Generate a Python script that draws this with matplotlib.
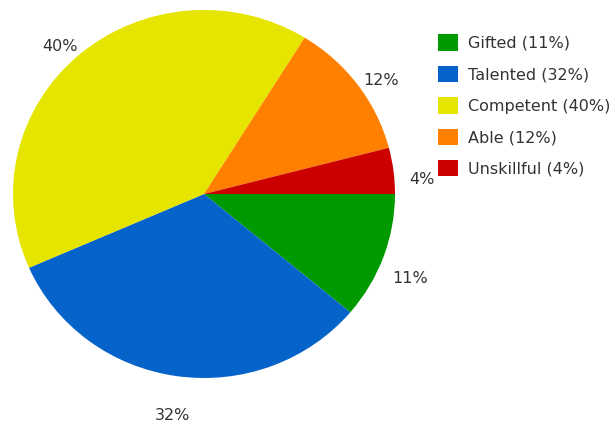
import matplotlib.pyplot as plt
from matplotlib.transforms import offset_copy

# Skill level breakdown
categories = ["Gifted", "Talented", "Competent", "Able", "Unskillful"]
shares = [11, 32, 40, 12, 4]
colors = ["#009a00", "#0563c9", "#e5e500", "#ff8000", "#cc0000"]

pct_labels = [f"{v}%" for v in shares]
legend_labels = [f"{c} ({v}%)" for c, v in zip(categories, shares)]

fig = plt.figure(figsize=(6.12, 4.22), dpi=100)
# axes box in pixels: x 13..395, y 10..378 (pie is a touch wider than tall)
ax = fig.add_axes([13 / 612, 1 - 378 / 422, 382 / 612, 368 / 422])

wedges, texts = ax.pie(shares, colors=colors, labels=pct_labels,
                       startangle=0, counterclock=False,
                       labeldistance=1.15,
                       wedgeprops=dict(linewidth=0),
                       textprops=dict(fontsize=11.5, color="#333333"))
for t in texts:
    t.set_ha("center")
    t.set_va("center")
    t.set_clip_on(False)
    # labels in the original sit a bit below the radial position
    t.set_transform(offset_copy(t.get_transform(), fig=fig, y=-12, units="dots"))

ax.set_aspect("auto")
ax.set_xlim(-1, 1)
ax.set_ylim(-1, 1)
ax.axis("off")

fig.legend(wedges, legend_labels, loc="upper left",
           bbox_to_anchor=(432 / 612, 1 - 28 / 422),
           frameon=False, fontsize=11.5, labelcolor="#333333",
           handlelength=1.2, handleheight=1.2, handletextpad=0.65,
           labelspacing=0.93, borderaxespad=0)

fig.savefig("out.png", dpi=100)
